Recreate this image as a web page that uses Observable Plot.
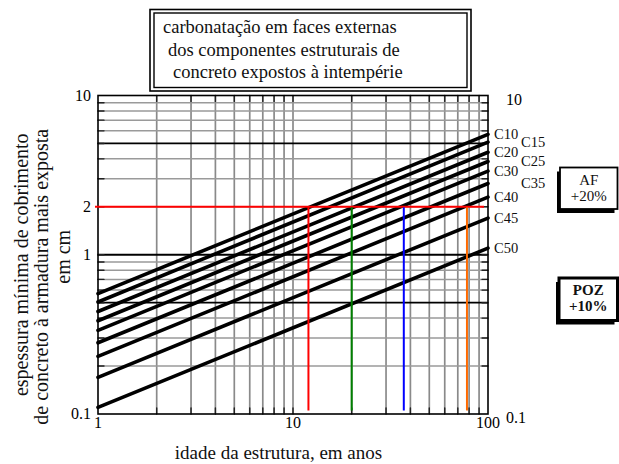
<!DOCTYPE html>
<html><head><meta charset="utf-8">
<script src="https://cdn.jsdelivr.net/npm/d3@7"></script>
<script src="https://cdn.jsdelivr.net/npm/@observablehq/plot@0.6"></script>
<style>
body{margin:0;background:#fff}
#chart{position:relative;width:619px;height:464px}
</style>
</head><body><div id="chart"></div>
<script>
// ---- data ----
const classes = ["C10","C15","C20","C25","C30","C35","C40","C45","C50"];
const coverAt1Year = [0.57,0.505,0.44,0.385,0.335,0.28,0.23,0.17,0.11];
const coverAt100Years = [5.7,5.1,4.4,3.85,3.35,2.8,2.3,1.7,1.1];
const staggeredLabels = ["C15","C25","C35"];
const xGrid = [2,3,4,5,6,7,8,9,10,20,30,40,50,60,70,80,90];
const yGridMinor = [0.2,0.3,0.4,0.6,0.7,0.8,0.9,2,3,4,6,7,8,9];
const yGridMajor = [0.5,1,5];
const yTickMarks = [0.2,0.3,0.4,0.5,0.6,0.7,0.8,0.9,1,2,3,4,5,6,7,8,9];
const xTicks = [1,5,10,50,100];
const yTicksLeft = [0.1,0.5,1,2,5,10];
const yTicksRight = [0.1,10];
const targetCover = 2;
const targetYears = [12,20,37,78];
const targetColors = ["#ff0000","#008000","#0000ff","#ff6a00"];
const targetLineEnd = 96;
const xLabel = "idade da estrutura, em anos";
const yLabelLines = ["espessura mínima de cobrimento","de concreto à armadura mais exposta","em cm"];
const titleLines = ["carbonatação em faces externas","dos componentes estruturais de","concreto expostos à intempérie"];
const afLines = ["AF","+20%"];
const pozLines = ["POZ","+10%"];

const lineData = classes.flatMap((c,i)=>[
  {cls:c, age:1, cover:coverAt1Year[i]},
  {cls:c, age:100, cover:coverAt100Years[i]}
]);
const labelData = classes.map((c,i)=>({cls:c, cover:coverAt100Years[i]}));

const FONT = '"Liberation Serif","DejaVu Serif",serif';
const tickShape = {draw(ctx,l){ctx.moveTo(0,0);ctx.lineTo(0,-l);}};
const tickOpts = {length:6, anchor:"start", shape:tickShape, stroke:"#222", strokeWidth:1.4};
const yLab = {frameAnchor:"left", text:d=>d, rotate:-90, textAnchor:"middle", lineAnchor:"middle", fontSize:20, fill:"#111"};

const chart = Plot.plot({
  width:619, height:464,
  marginLeft:97.5, marginRight:131.5, marginTop:95, marginBottom:50.5,
  style:{fontFamily:FONT, fontSize:"16px", color:"#000", background:"#fff"},
  x:{type:"log", domain:[1,100], axis:null},
  y:{type:"log", domain:[0.1,10], axis:null},
  color:{type:"identity"},
  marks:[
    Plot.ruleX(xGrid, {x:d=>d, stroke:"#8a8a8a", strokeWidth:1.7}),
    Plot.ruleY(yGridMinor, {y:d=>d, stroke:"#9a9a9a", strokeWidth:1.5}),
    Plot.ruleY(yGridMajor, {y:d=>d, stroke:"#000", strokeWidth:1.8}),
    Plot.vector(xGrid, {x:d=>d, frameAnchor:"bottom", rotate:0, ...tickOpts}),
    Plot.vector(xGrid, {x:d=>d, frameAnchor:"top", rotate:180, ...tickOpts}),
    Plot.vector(yTickMarks, {y:d=>d, frameAnchor:"left", rotate:90, ...tickOpts}),
    Plot.vector(yTickMarks, {y:d=>d, frameAnchor:"right", rotate:270, ...tickOpts}),
    Plot.frame({stroke:"#000", strokeWidth:1.6}),
    Plot.line(lineData, {x:"age", y:"cover", z:"cls", stroke:"#000", strokeWidth:3.6}),
    Plot.ruleY([targetCover], {y:d=>d, x1:1, x2:targetLineEnd, stroke:"#ff0000", strokeWidth:2, insetLeft:-2.5}),
    Plot.ruleX(targetYears, {x:d=>d, y1:0.1, y2:targetCover, stroke:(d,i)=>targetColors[i], strokeWidth:2, insetTop:-3, insetBottom:-1}),
    Plot.text(labelData.filter(d=>!staggeredLabels.includes(d.cls)), {frameAnchor:"right", y:"cover", text:"cls", textAnchor:"start", dx:6, fontSize:14.5, fill:"#111"}),
    Plot.text(labelData.filter(d=>staggeredLabels.includes(d.cls)), {frameAnchor:"right", y:"cover", text:"cls", textAnchor:"start", dx:33, fontSize:14.5, fill:"#111"}),
    Plot.axisX(xTicks, {anchor:"bottom", tickSize:0, tickPadding:3, tickFormat:d=>String(d), fontSize:16, label:null}),
    Plot.axisY(yTicksLeft, {anchor:"left", tickSize:0, tickPadding:7, tickFormat:d=>String(d), fontSize:16, label:null}),
    Plot.axisY(yTicksRight, {anchor:"right", tickSize:0, tickPadding:18, tickFormat:d=>String(d), fontSize:16, label:null, dy:4}),
    Plot.text([xLabel], {frameAnchor:"bottom", text:d=>d, textAnchor:"middle", lineAnchor:"middle", dy:38.5, dx:-14.5, fontSize:19, fill:"#111"}),
    Plot.text([yLabelLines[0]], {...yLab, dx:-76, dy:10}),
    Plot.text([yLabelLines[1]], {...yLab, dx:-56, dy:22}),
    Plot.text([yLabelLines[2]], {...yLab, dx:-34.5, dy:2})
  ]
});
document.getElementById("chart").appendChild(chart);

// ---- annotation boxes ----
const svg = d3.select(chart);
const title = svg.append("g");
title.append("rect").attr("x",150).attr("y",9.5).attr("width",321).attr("height",81.5).attr("fill","#fff").attr("stroke","#000").attr("stroke-width",1.6);
title.append("rect").attr("x",154).attr("y",13).attr("width",313).attr("height",74.5).attr("fill","none").attr("stroke","#000").attr("stroke-width",1.4);
const titleX = [163,168,173], titleY = [26.7,49.5,71.5];
titleLines.forEach((t,i)=>title.append("text").attr("x",titleX[i]).attr("y",titleY[i]).attr("dy","0.35em")
  .attr("text-anchor","start").attr("font-size",18.5).attr("font-family",FONT).attr("fill","#111").text(t));

function box(x,y,w,h,sw,lines,bold,cy){
  const g = svg.append("g");
  g.append("rect").attr("x",x-3).attr("y",y+4).attr("width",w).attr("height",h).attr("fill","#000");
  g.append("rect").attr("x",x).attr("y",y).attr("width",w).attr("height",h).attr("fill","#fff").attr("stroke","#000").attr("stroke-width",sw);
  lines.forEach((t,i)=>g.append("text").attr("x",x+w/2).attr("y",cy[i]).attr("dy","0.35em").attr("text-anchor","middle")
    .attr("font-size",15).attr("font-family",FONT).attr("font-weight",bold?"bold":"normal").attr("fill","#111").text(t));
}
box(560,167.5,57.5,41.5,1.8,afLines,false,[179.5,196]);
box(559,278,58.5,42.5,3,pozLines,true,[290,306]);
</script>
</body></html>
